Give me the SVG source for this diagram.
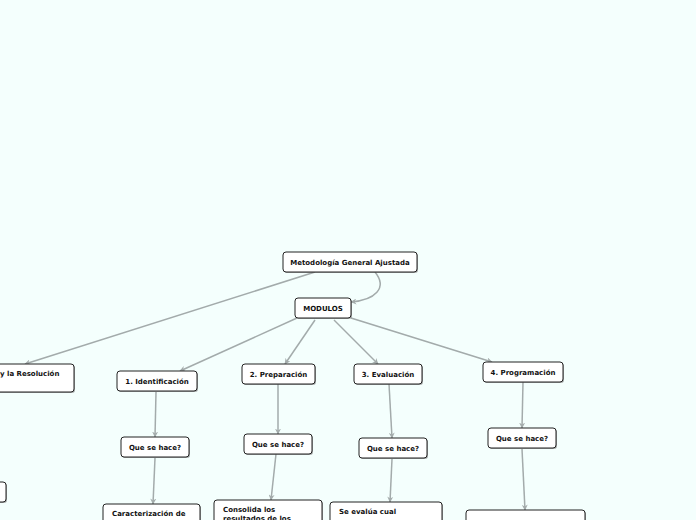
<svg xmlns="http://www.w3.org/2000/svg" width="696" height="520" viewBox="0 0 696 520">
<style>
.n rect.b{fill:#fff;stroke:#222;stroke-width:1}
.n rect.s{fill:#777;opacity:0.6}
.n text{font-family:"DejaVu Sans",Verdana,sans-serif;font-weight:bold;font-size:7px;fill:#111}
.c path{fill:none;stroke:#a3abab;stroke-width:1.5;marker-end:url(#ah)}
</style>
<defs>
<marker id="ah" viewBox="0 0 10 10" refX="9" refY="5" markerWidth="6" markerHeight="6" orient="auto" markerUnits="userSpaceOnUse">
<path d="M0,0 L10,5 L0,10 L3,5 Z" fill="#a3abab"/>
</marker>
</defs>
<rect width="696" height="520" fill="#f4fffd"/>
<g class="c">
<path d="M315,272 L25,364"/>
<path d="M375,272 C388,288 375,300 351,302"/>
<path d="M297,318 L180,371"/>
<path d="M315,320 L285,364"/>
<path d="M334,320 L378,364"/>
<path d="M351,318 L492,362"/>
<path d="M156,392 L155,437"/>
<path d="M278,384 L278,434"/>
<path d="M389,384 L392,438"/>
<path d="M523,382 L522,428"/>
<path d="M155,458 L153,504"/>
<path d="M276,454 L271,500"/>
<path d="M392,459 L390,502"/>
<path d="M522,449 L525,510"/>
</g>
<g id="metodologia" class="n"><rect class="s" x="284" y="253" width="134" height="20" rx="3"/><rect class="b" x="283" y="252" width="134" height="20" rx="3"/><text x="350" y="264.5" text-anchor="middle">Metodología General Ajustada</text></g>
<g id="modulos" class="n"><rect class="s" x="296" y="299" width="56" height="20" rx="3"/><rect class="b" x="295" y="298" width="56" height="20" rx="3"/><text x="323" y="310.5" text-anchor="middle">MODULOS</text></g>
<g id="resolucion" class="n"><rect class="s" x="-19" y="365" width="94" height="28" rx="3"/><rect class="b" x="-20" y="364" width="94" height="28" rx="3"/><text x="0" y="376">y la Resolución</text></g>
<g id="identificacion" class="n"><rect class="s" x="118" y="372" width="80" height="20" rx="3"/><rect class="b" x="117" y="371" width="80" height="20" rx="3"/><text x="157" y="383.5" text-anchor="middle">1. Identificación</text></g>
<g id="preparacion" class="n"><rect class="s" x="243" y="365" width="73" height="20" rx="3"/><rect class="b" x="242" y="364" width="73" height="20" rx="3"/><text x="278.5" y="376.5" text-anchor="middle">2. Preparación</text></g>
<g id="evaluacion" class="n"><rect class="s" x="355" y="365" width="68" height="20" rx="3"/><rect class="b" x="354" y="364" width="68" height="20" rx="3"/><text x="388" y="376.5" text-anchor="middle">3. Evaluación</text></g>
<g id="programacion" class="n"><rect class="s" x="484" y="363" width="80" height="20" rx="3"/><rect class="b" x="483" y="362" width="80" height="20" rx="3"/><text x="523" y="374.5" text-anchor="middle">4. Programación</text></g>
<g id="que1" class="n"><rect class="s" x="122" y="438" width="68" height="20" rx="3"/><rect class="b" x="121" y="437" width="68" height="20" rx="3"/><text x="155" y="449.5" text-anchor="middle">Que se hace?</text></g>
<g id="que2" class="n"><rect class="s" x="245" y="435" width="68" height="20" rx="3"/><rect class="b" x="244" y="434" width="68" height="20" rx="3"/><text x="278" y="446.5" text-anchor="middle">Que se hace?</text></g>
<g id="que3" class="n"><rect class="s" x="360" y="439" width="68" height="20" rx="3"/><rect class="b" x="359" y="438" width="68" height="20" rx="3"/><text x="393" y="450.5" text-anchor="middle">Que se hace?</text></g>
<g id="que4" class="n"><rect class="s" x="489" y="429" width="68" height="20" rx="3"/><rect class="b" x="488" y="428" width="68" height="20" rx="3"/><text x="522" y="440.5" text-anchor="middle">Que se hace?</text></g>
<g id="left-small" class="n"><rect class="s" x="-29" y="483" width="36" height="20" rx="3"/><rect class="b" x="-30" y="482" width="36" height="20" rx="3"/></g>
<g id="caracterizacion" class="n"><rect class="s" x="104" y="505" width="97" height="40" rx="3"/><rect class="b" x="103" y="504" width="97" height="40" rx="3"/><text x="112" y="516">Caracterización de</text></g>
<g id="consolida" class="n"><rect class="s" x="215" y="501" width="108" height="40" rx="3"/><rect class="b" x="214" y="500" width="108" height="40" rx="3"/><text x="223" y="512">Consolida los</text><text x="223" y="521">resultados de los</text></g>
<g id="se-evalua" class="n"><rect class="s" x="331" y="503" width="112" height="40" rx="3"/><rect class="b" x="330" y="502" width="112" height="40" rx="3"/><text x="339" y="514">Se evalúa cual</text></g>
<g id="decide" class="n"><rect class="s" x="467" y="511" width="119" height="40" rx="3"/><rect class="b" x="466" y="510" width="119" height="40" rx="3"/></g>
</svg>
